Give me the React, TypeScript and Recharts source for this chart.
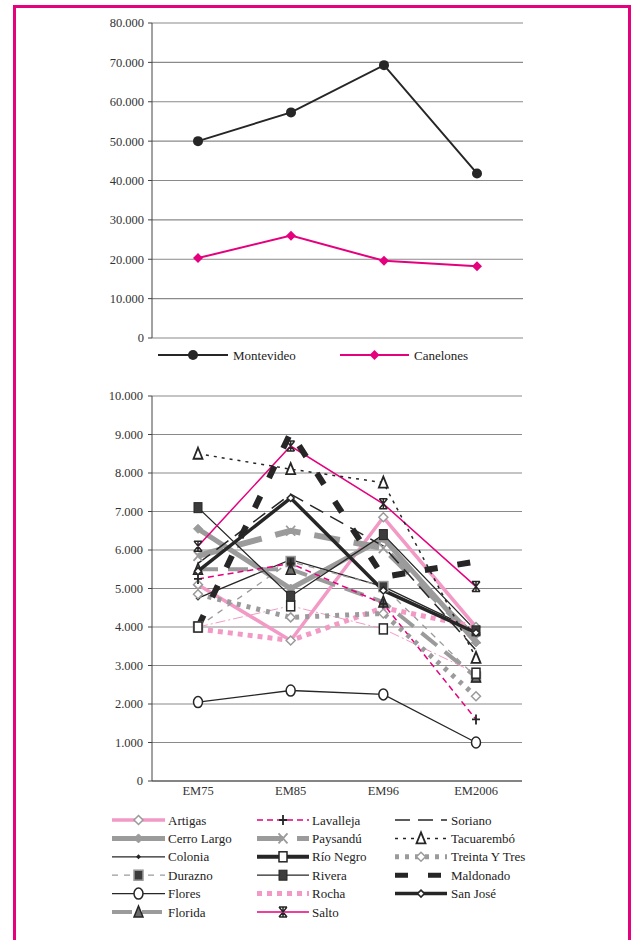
import React from 'react';
import { LineChart, Line, XAxis, YAxis, CartesianGrid } from 'recharts';

const periods = ['EM75', 'EM85', 'EM96', 'EM2006'];

// top chart
const montevideo = [50000, 57300, 69300, 41800];
const canelones = [20300, 26000, 19600, 18200];
const topTicks = [0, 10000, 20000, 30000, 40000, 50000, 60000, 70000, 80000];

// bottom chart
const artigas = [5100, 3650, 6850, 4000];
const cerroLargo = [6550, 5000, 6300, 3600];
const colonia = [4750, 5750, 5050, 3900];
const durazno = [4000, 5700, 5050, 2700];
const flores = [2050, 2350, 2250, 1000];
const florida = [5500, 5500, 4650, 2700];
const lavalleja = [5250, 5650, 4600, 1600];
const paysandu = [5850, 6500, 6050, 3700];
const rioNegro = [4000, 4550, 3950, 2800];
const rivera = [7100, 4800, 6400, 3900];
const rocha = [3950, 3650, 4500, 4000];
const salto = [6100, 8700, 7200, 5050];
const soriano = [5650, 7450, 6100, 3400];
const tacuarembo = [8500, 8100, 7750, 3200];
const treintaYTres = [4850, 4250, 4350, 2200];
const maldonado = [4000, 9050, 5300, 5700];
const sanJose = [5450, 7350, 4950, 3850];
const bottomTicks = [0, 1000, 2000, 3000, 4000, 5000, 6000, 7000, 8000, 9000, 10000];

const MAGENTA = '#e5007e';
const PINK = '#f29ac5';
const GREY = '#9b9b9b';
const DARK = '#262626';
const FONT = '"Liberation Serif", "Times New Roman", serif';

type Dept = {
  key: string;
  name: string;
  values: number[];
  stroke: string;
  width: number;
  dash?: string;
  marker?: string;
  markerColor?: string;
  legend?: { stroke: string; width: number; dash?: string };
};

const departments: Dept[] = [
  { key: 'artigas', name: 'Artigas', values: artigas, stroke: PINK, width: 3.5, marker: 'diamondOpen', markerColor: GREY },
  { key: 'cerroLargo', name: 'Cerro Largo', values: cerroLargo, stroke: GREY, width: 5, marker: 'diamond', markerColor: GREY },
  { key: 'colonia', name: 'Colonia', values: colonia, stroke: DARK, width: 1.3, marker: 'diamondSmall', markerColor: DARK },
  { key: 'durazno', name: 'Durazno', values: durazno, stroke: GREY, width: 1.3, dash: '6 6', marker: 'squareDark', markerColor: GREY },
  { key: 'flores', name: 'Flores', values: flores, stroke: DARK, width: 1.3, marker: 'circleOpen', markerColor: DARK },
  { key: 'florida', name: 'Florida', values: florida, stroke: GREY, width: 4, dash: '20 10', marker: 'triangleDark', markerColor: DARK },
  { key: 'lavalleja', name: 'Lavalleja', values: lavalleja, stroke: MAGENTA, width: 1.5, dash: '6 4', marker: 'plus', markerColor: DARK },
  { key: 'paysandu', name: 'Paysandú', values: paysandu, stroke: GREY, width: 6, dash: '26 14', marker: 'cross', markerColor: GREY },
  { key: 'rioNegro', name: 'Río Negro', values: rioNegro, stroke: PINK, width: 1, dash: '10 3 2 3', marker: 'squareOpen', markerColor: DARK, legend: { stroke: DARK, width: 4 } },
  { key: 'rivera', name: 'Rivera', values: rivera, stroke: DARK, width: 1.3, marker: 'squareFill', markerColor: DARK },
  { key: 'rocha', name: 'Rocha', values: rocha, stroke: PINK, width: 5, dash: '5 5' },
  { key: 'salto', name: 'Salto', values: salto, stroke: MAGENTA, width: 1.5, marker: 'star', markerColor: DARK },
  { key: 'soriano', name: 'Soriano', values: soriano, stroke: DARK, width: 1.5, dash: '15 8' },
  { key: 'tacuarembo', name: 'Tacuarembó', values: tacuarembo, stroke: DARK, width: 1.5, dash: '3 5', marker: 'triangleOpen', markerColor: DARK },
  { key: 'treintaYTres', name: 'Treinta Y Tres', values: treintaYTres, stroke: GREY, width: 5, dash: '4 6', marker: 'diamondOpen', markerColor: GREY },
  { key: 'maldonado', name: 'Maldonado', values: maldonado, stroke: DARK, width: 6, dash: '13 20' },
  { key: 'sanJose', name: 'San José', values: sanJose, stroke: DARK, width: 3.5, marker: 'diamondSmallOpen', markerColor: DARK },
];

const topData = periods.map((p, i) => ({ period: p, montevideo: montevideo[i], canelones: canelones[i] }));
const bottomData = periods.map((p, i) => {
  const row: Record<string, string | number> = { period: p };
  departments.forEach((d) => {
    row[d.key] = d.values[i];
  });
  return row;
});

const fmt = (v: number) => String(v).replace(/\B(?=(\d{3})+(?!\d))/g, '.');

function marker(shape: string, cx: number, cy: number, color: string, key?: string) {
  const dia = (s: number) => `${cx},${cy - s} ${cx + s},${cy} ${cx},${cy + s} ${cx - s},${cy}`;
  switch (shape) {
    case 'circleFill':
      return <circle key={key} cx={cx} cy={cy} r={5} fill={color} />;
    case 'diamondFill':
      return <polygon key={key} points={dia(5)} fill={color} />;
    case 'diamond':
      return <polygon key={key} points={dia(4.5)} fill={color} stroke={color} />;
    case 'diamondOpen':
      return <polygon key={key} points={dia(4.5)} fill="#fff" stroke={color} strokeWidth={1.5} />;
    case 'diamondSmall':
      return <polygon key={key} points={dia(2.5)} fill={color} />;
    case 'diamondSmallOpen':
      return <polygon key={key} points={dia(3.5)} fill="#fff" stroke={color} strokeWidth={1.5} />;
    case 'squareDark':
      return <rect key={key} x={cx - 4.5} y={cy - 5} width={9} height={10} fill="#3c3c3c" stroke={color} strokeWidth={1.5} />;
    case 'squareFill':
      return <rect key={key} x={cx - 4} y={cy - 5} width={8} height={10} fill="#3c3c3c" stroke={color} strokeWidth={1} />;
    case 'squareOpen':
      return <rect key={key} x={cx - 4} y={cy - 5} width={8} height={10} fill="#fff" stroke={color} strokeWidth={1.5} />;
    case 'circleOpen':
      return <ellipse key={key} cx={cx} cy={cy} rx={4.5} ry={5.5} fill="#fff" stroke={color} strokeWidth={1.5} />;
    case 'triangleDark':
      return <polygon key={key} points={`${cx},${cy - 6} ${cx + 4.5},${cy + 5} ${cx - 4.5},${cy + 5}`} fill="#6a6a6a" stroke={color} strokeWidth={1.5} />;
    case 'triangleOpen':
      return <polygon key={key} points={`${cx},${cy - 6} ${cx + 4.5},${cy + 5} ${cx - 4.5},${cy + 5}`} fill="#fff" stroke={color} strokeWidth={1.8} />;
    case 'plus':
      return <path key={key} d={`M${cx - 4},${cy}H${cx + 4}M${cx},${cy - 5}V${cy + 5}`} stroke={color} strokeWidth={1.8} />;
    case 'cross':
      return <path key={key} d={`M${cx - 4.5},${cy - 5}L${cx + 4.5},${cy + 5}M${cx + 4.5},${cy - 5}L${cx - 4.5},${cy + 5}`} stroke={color} strokeWidth={1.8} />;
    case 'star':
      return (
        <path
          key={key}
          d={`M${cx - 4},${cy - 5}L${cx + 4},${cy + 5}M${cx + 4},${cy - 5}L${cx - 4},${cy + 5}M${cx},${cy - 5}V${cy + 5}M${cx - 4},${cy - 5}H${cx + 4}M${cx - 4},${cy + 5}H${cx + 4}`}
          stroke={color}
          strokeWidth={1.5}
        />
      );
    default:
      return <g key={key} />;
  }
}

const tickStyle = { fill: '#333', fontSize: 12.5, fontFamily: FONT };

const Legends = () => {
  const cols = [
    { x1: 112, x2: 165, tx: 168 },
    { x1: 257, x2: 309, tx: 312 },
    { x1: 395, x2: 447, tx: 451 },
  ];
  const top = [
    { name: 'Montevideo', stroke: DARK, shape: 'circleFill', x1: 158, x2: 228, tx: 233 },
    { name: 'Canelones', stroke: MAGENTA, shape: 'diamondFill', x1: 340, x2: 409, tx: 414 },
  ];
  return (
    <svg width={631} height={940} style={{ position: 'absolute', left: 0, top: 0, pointerEvents: 'none' }}>
      {top.map((t) => (
        <g key={t.name}>
          <line x1={t.x1} x2={t.x2} y1={355} y2={355} stroke={t.stroke} strokeWidth={2} />
          {marker(t.shape, (t.x1 + t.x2) / 2, 355, t.stroke)}
          <text x={t.tx} y={355} dominantBaseline="central" fontFamily={FONT} fontSize={13} fill="#222">
            {t.name}
          </text>
        </g>
      ))}
      {departments.map((d, i) => {
        const c = cols[Math.floor(i / 6)];
        const y = 820 + (i % 6) * 18.4;
        const ls = d.legend ?? { stroke: d.stroke, width: d.width, dash: d.dash };
        return (
          <g key={d.key}>
            <line x1={c.x1} x2={c.x2} y1={y} y2={y} stroke={ls.stroke} strokeWidth={Math.min(ls.width, 5)} strokeDasharray={ls.dash} />
            {d.marker && marker(d.marker, (c.x1 + c.x2) / 2, y, d.markerColor ?? DARK)}
            <text x={c.tx} y={y} dominantBaseline="central" fontFamily={FONT} fontSize={13} fill="#222">
              {d.name}
            </text>
          </g>
        );
      })}
    </svg>
  );
};

export default function App() {
  return (
    <div style={{ position: 'absolute', left: 0, top: 0, width: 631, height: 940, overflow: 'hidden', background: '#fff' }}>
      <div
        style={{
          position: 'absolute',
          left: 13,
          top: 5,
          width: 618,
          height: 940,
          boxSizing: 'border-box',
          border: `3px solid ${MAGENTA}`,
          borderBottom: 'none',
        }}
      />
      <div style={{ position: 'absolute', left: 0, top: 0 }}>
        <LineChart width={631} height={360} data={topData} margin={{ top: 23, right: 108, bottom: 22, left: 0 }}>
          <CartesianGrid vertical={false} stroke="#8a8a8a" strokeWidth={1.2} />
          <XAxis dataKey="period" height={0} tick={false} tickLine={false} axisLine={{ stroke: '#444' }} padding={{ left: 46, right: 46 }} />
          <YAxis
            domain={[0, 80000]}
            ticks={topTicks}
            tickFormatter={fmt}
            width={152}
            tickSize={4}
            tickMargin={4}
            tick={tickStyle}
            axisLine={{ stroke: '#444' }}
            tickLine={{ stroke: '#444' }}
            interval={0}
          />
          <YAxis yAxisId="r" orientation="right" width={0} domain={[0, 1]} tick={false} tickLine={false} axisLine={{ stroke: '#8a8a8a' }} />
          <Line dataKey="montevideo" stroke={DARK} strokeWidth={2} isAnimationActive={false} activeDot={false}
            dot={(p: any) => marker('circleFill', p.cx, p.cy, DARK, `m${p.index}`)} />
          <Line dataKey="canelones" stroke={MAGENTA} strokeWidth={2} isAnimationActive={false} activeDot={false}
            dot={(p: any) => marker('diamondFill', p.cx, p.cy, MAGENTA, `c${p.index}`)} />
        </LineChart>
      </div>
      <div style={{ position: 'absolute', left: 0, top: 380 }}>
        <LineChart width={631} height={420} data={bottomData} margin={{ top: 16, right: 109, bottom: 0, left: 0 }}>
          <CartesianGrid vertical={false} stroke="#8a8a8a" strokeWidth={1.2} />
          <XAxis xAxisId="b" type="number" domain={[0, 4]} ticks={[0, 1, 2, 3, 4]} height={0} tick={false} tickSize={4} tickLine={{ stroke: '#444' }} axisLine={false} />
          <XAxis xAxisId="c" dataKey="period" height={19} tickLine={false} tickSize={0} tickMargin={5} tick={tickStyle} axisLine={{ stroke: '#444' }} padding={{ left: 46, right: 46 }} interval={0} />
          <YAxis
            domain={[0, 10000]}
            ticks={bottomTicks}
            tickFormatter={fmt}
            width={152}
            tickSize={4}
            tickMargin={5}
            tick={tickStyle}
            axisLine={{ stroke: '#444' }}
            tickLine={{ stroke: '#444' }}
            interval={0}
          />
          <YAxis yAxisId="r" orientation="right" width={0} domain={[0, 1]} tick={false} tickLine={false} axisLine={{ stroke: '#8a8a8a' }} />
          {departments.map((d) => (
            <Line
              key={d.key}
              xAxisId="c"
              dataKey={d.key}
              name={d.name}
              stroke={d.stroke}
              strokeWidth={d.width}
              strokeDasharray={d.dash}
              isAnimationActive={false}
              activeDot={false}
              dot={d.marker ? (p: any) => marker(d.marker as string, p.cx, p.cy, d.markerColor ?? DARK, `${d.key}${p.index}`) : false}
            />
          ))}
        </LineChart>
      </div>
      <Legends />
    </div>
  );
}
